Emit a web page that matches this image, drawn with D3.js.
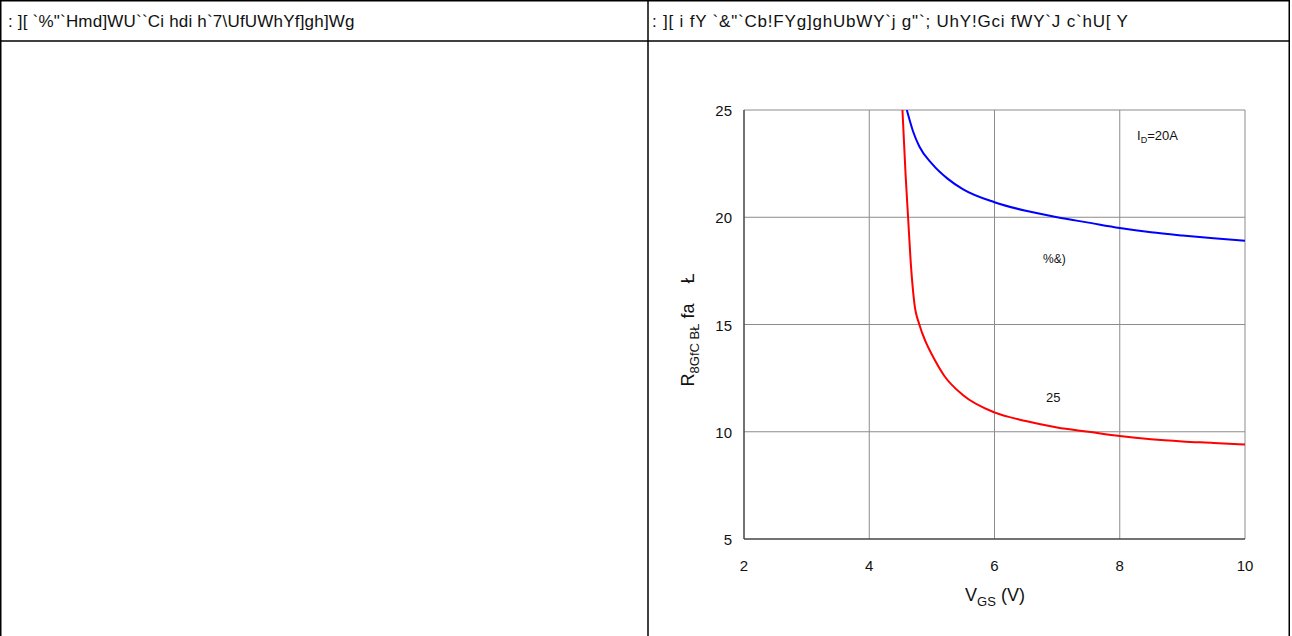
<!DOCTYPE html>
<html>
<head>
<meta charset="utf-8">
<script src="https://cdn.jsdelivr.net/npm/d3@7"></script>
<style>
  html, body { margin: 0; padding: 0; background: #fff; }
  svg { display: block; font-family: "Liberation Sans", Arial, sans-serif; }
</style>
</head>
<body>
<svg id="chart" width="1292" height="636"></svg>
<script>
// 表頭文字（原圖就是亂碼字型，照樣保留）
const headerLeft = ': ][ `%"`Hmd]WU``Ci hdi h`7\\UfUWhYf]gh]Wg';
const headerRight = ': ][ i fY `&"`Cb!FYg]ghUbWY`j g"`; UhY!Gci fWY`J c`hU[ Y';

// 刻度
const xTicks = [2, 4, 6, 8, 10];
const yTicks = [5, 10, 15, 20, 25];

// 125 度曲線 (藍)
const blueVgs = [4.6, 4.7, 4.8, 5.0, 5.25, 5.5, 6.0, 6.5, 7.0, 7.5, 8.0, 8.5, 9.0, 9.5, 10.0];
const blueRds = [25, 24.0, 23.3, 22.5, 21.8, 21.3, 20.7, 20.3, 20.0, 19.75, 19.5, 19.3, 19.15, 19.02, 18.9];

// 25 度曲線 (紅)
const redVgs = [4.53, 4.58, 4.62, 4.66, 4.72, 4.8, 4.9, 5.0, 5.2, 5.5, 6.0, 6.5, 7.0, 7.5, 8.0, 8.5, 9.0, 9.5, 10.0];
const redRds = [25, 22, 20, 18, 16, 15, 14.2, 13.6, 12.6, 11.7, 10.9, 10.5, 10.2, 10.0, 9.8, 9.65, 9.55, 9.48, 9.4];

const svg = d3.select('#chart');

// 外框表格
svg.append('rect')
  .attr('x', 0.75).attr('y', 0.75)
  .attr('width', 1288.5).attr('height', 640)
  .attr('fill', 'none').attr('stroke', '#000').attr('stroke-width', 1.5);
svg.append('line')
  .attr('x1', 0).attr('x2', 1290).attr('y1', 41).attr('y2', 41)
  .attr('stroke', '#000').attr('stroke-width', 1.5);
svg.append('line')
  .attr('x1', 648).attr('x2', 648).attr('y1', 0).attr('y2', 636)
  .attr('stroke', '#000').attr('stroke-width', 1.5);

svg.append('text')
  .attr('x', 8).attr('y', 27)
  .attr('font-size', 17).attr('fill', '#111')
  .attr('letter-spacing', 0.2)
  .style('white-space', 'pre')
  .text(headerLeft);
svg.append('text')
  .attr('x', 652).attr('y', 27)
  .attr('font-size', 17).attr('fill', '#111')
  .attr('letter-spacing', 0.8)
  .style('white-space', 'pre')
  .text(headerRight);

// 圖表區
const plotLeft = 744, plotRight = 1245, plotTop = 110, plotBottom = 539;
const x = d3.scaleLinear().domain([2, 10]).range([plotLeft, plotRight]);
const y = d3.scaleLinear().domain([5, 25]).range([plotBottom, plotTop]);

const plot = svg.append('g');

// 格線
plot.selectAll('line.vgrid')
  .data(xTicks.slice(1))
  .join('line')
  .attr('class', 'vgrid')
  .attr('x1', d => x(d)).attr('x2', d => x(d))
  .attr('y1', plotTop).attr('y2', plotBottom)
  .attr('stroke', '#8c8c8c').attr('stroke-width', 1);
plot.selectAll('line.hgrid')
  .data(yTicks.slice(1))
  .join('line')
  .attr('class', 'hgrid')
  .attr('x1', plotLeft).attr('x2', plotRight)
  .attr('y1', d => y(d)).attr('y2', d => y(d))
  .attr('stroke', '#8c8c8c').attr('stroke-width', 1);

// 軸線
plot.append('line')
  .attr('x1', plotLeft).attr('x2', plotLeft).attr('y1', plotTop).attr('y2', plotBottom)
  .attr('stroke', '#444').attr('stroke-width', 1.5);
plot.append('line')
  .attr('x1', plotLeft).attr('x2', plotRight).attr('y1', plotBottom).attr('y2', plotBottom)
  .attr('stroke', '#444').attr('stroke-width', 1.5);

// 刻度文字
plot.selectAll('text.xt')
  .data(xTicks)
  .join('text')
  .attr('class', 'xt')
  .attr('x', d => x(d)).attr('y', plotBottom + 32)
  .attr('text-anchor', 'middle')
  .attr('font-size', 15).attr('fill', '#111')
  .text(d => d);
plot.selectAll('text.yt')
  .data(yTicks)
  .join('text')
  .attr('class', 'yt')
  .attr('x', plotLeft - 12).attr('y', d => y(d) + 6)
  .attr('text-anchor', 'end')
  .attr('font-size', 15).attr('fill', '#111')
  .text(d => d);

// 曲線
svg.append('clipPath').attr('id', 'plotClip')
  .append('rect')
  .attr('x', plotLeft).attr('y', plotTop)
  .attr('width', plotRight - plotLeft).attr('height', plotBottom - plotTop);

const line = d3.line()
  .x(d => x(d[0]))
  .y(d => y(d[1]))
  .curve(d3.curveMonotoneX);

plot.append('path')
  .datum(d3.zip(blueVgs, blueRds))
  .attr('d', line)
  .attr('clip-path', 'url(#plotClip)')
  .attr('fill', 'none').attr('stroke', '#0000ff').attr('stroke-width', 2);

plot.append('path')
  .datum(d3.zip(redVgs, redRds))
  .attr('d', line)
  .attr('clip-path', 'url(#plotClip)')
  .attr('fill', 'none').attr('stroke', '#ff0000').attr('stroke-width', 2);

// 註記
plot.append('text')
  .attr('x', 1043).attr('y', 263)
  .attr('font-size', 12).attr('fill', '#111')
  .text('%&)');
plot.append('text')
  .attr('x', 1046).attr('y', 402)
  .attr('font-size', 13).attr('fill', '#111')
  .text('25');

const idText = plot.append('text')
  .attr('x', 1137).attr('y', 140)
  .attr('font-size', 13).attr('fill', '#111');
idText.append('tspan').text('I');
idText.append('tspan').attr('font-size', 9).attr('dy', 3).text('D');
idText.append('tspan').attr('dy', -3).text('=20A');

// 軸標題
const xLabel = svg.append('text')
  .attr('x', 995).attr('y', 601)
  .attr('text-anchor', 'middle')
  .attr('font-size', 18).attr('fill', '#111');
xLabel.append('tspan').text('V');
xLabel.append('tspan').attr('font-size', 13).attr('dy', 5).text('GS');
xLabel.append('tspan').attr('dy', -5).text(' (V)');

const yLabel = svg.append('text')
  .attr('transform', 'translate(694, 330) rotate(-90)')
  .attr('text-anchor', 'middle')
  .attr('font-size', 18).attr('fill', '#111')
  .style('white-space', 'pre');
yLabel.append('tspan').text('R');
yLabel.append('tspan').attr('font-size', 13).attr('dy', 5).text('8GfC BŁ');
yLabel.append('tspan').attr('dy', -5).text(' fa    Ł');
</script>
</body>
</html>
